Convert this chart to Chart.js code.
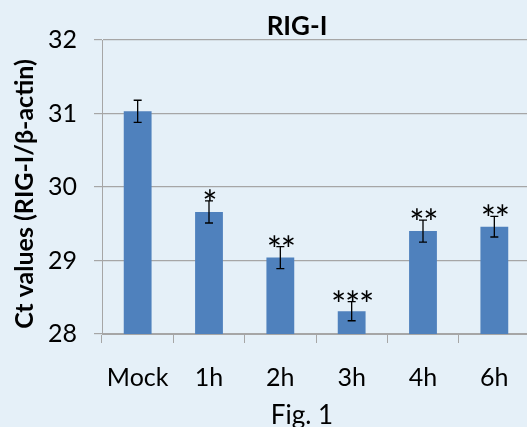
<!DOCTYPE html>
<html>
<head>
<meta charset="utf-8">
<script src="https://cdn.jsdelivr.net/npm/chart.js@4"></script>
<style>
  html, body { margin: 0; padding: 0; overflow: hidden; background: #e5f0f8; }
  #wrap { width: 531px; height: 427px; }
</style>
</head>
<body>
<div id="wrap"><canvas id="rigChart" width="531" height="427"></canvas></div>
<script>
// values
const categories = ["Mock", "1h", "2h", "3h", "4h", "6h"];
const ctValues = [31.03, 29.66, 29.04, 28.31, 29.40, 29.46];
const errValues = [0.15, 0.15, 0.15, 0.13, 0.15, 0.14];
const stars = ["", "*", "**", "***", "**", "**"];
const yTicks = [28, 29, 30, 31, 32];

const FONT = "Lato, 'Open Sans', sans-serif";
const gridColor = "#a6a6a6";

// error bars, asterisks and the free-standing texts
const extrasPlugin = {
    id: "extras",
    afterDatasetsDraw(chart) {
        const ctx = chart.ctx;
        const y = chart.scales.y;
        const meta = chart.getDatasetMeta(0);

        ctx.save();
        ctx.strokeStyle = "#000";
        ctx.fillStyle = "#000";
        ctx.lineWidth = 1.3;
        ctx.font = "36px " + FONT;
        ctx.textAlign = "center";
        ctx.textBaseline = "alphabetic";
        const m = ctx.measureText("*");
        const starMid = (m.actualBoundingBoxAscent - m.actualBoundingBoxDescent) / 2;

        meta.data.forEach((bar, i) => {
            const top = y.getPixelForValue(ctValues[i] + errValues[i]);
            const bot = y.getPixelForValue(ctValues[i] - errValues[i]);
            ctx.beginPath();
            ctx.moveTo(bar.x, top);
            ctx.lineTo(bar.x, bot);
            ctx.moveTo(bar.x - 4, top);
            ctx.lineTo(bar.x + 4, top);
            ctx.moveTo(bar.x - 4, bot);
            ctx.lineTo(bar.x + 4, bot);
            ctx.stroke();

            // asterisks, 14px apart, centred over the bar
            const n = stars[i].length;
            for (let k = 0; k < n; k++) {
                const sx = bar.x + 1 + (k - (n - 1) / 2) * 14;
                ctx.fillText("*", sx, top - 6 + starMid);
            }
        });

        ctx.textAlign = "center";
        ctx.textBaseline = "alphabetic";
        ctx.font = "bold 26px " + FONT;
        ctx.fillText("RIG-I", 297, 35);

        ctx.font = "26px " + FONT;
        ctx.fillText("Fig. 1", 302, 424);

        ctx.translate(33, 194);
        ctx.rotate(-Math.PI / 2);
        ctx.font = "bold 25px " + FONT;
        ctx.fillText("Ct values (RIG-I/\u03b2-actin)", 0, 0);
        ctx.restore();
    }
};

const ctx = document.getElementById("rigChart").getContext("2d");

new Chart(ctx, {
    type: "bar",
    data: {
        labels: categories,
        datasets: [{
            data: ctValues,
            backgroundColor: "#4f81bd",
            borderWidth: 0,
            categoryPercentage: 1,
            barPercentage: 0.39
        }]
    },
    options: {
        responsive: false,
        animation: false,
        devicePixelRatio: 1,
        layout: { padding: { top: 40, right: 1, left: 0, bottom: 0 } },
        plugins: {
            legend: { display: false },
            tooltip: { enabled: false }
        },
        scales: {
            x: {
                offset: true,
                grid: {
                    display: true,
                    offset: true,
                    drawOnChartArea: false,
                    drawTicks: true,
                    tickLength: 9,
                    color: gridColor
                },
                border: { display: true, color: gridColor },
                ticks: {
                    color: "#000",
                    padding: 20,
                    font: { family: FONT, size: 25 }
                },
                afterFit: s => { s.height = 93; }
            },
            y: {
                min: 28,
                max: 32,
                afterBuildTicks: s => { s.ticks = yTicks.map(v => ({ value: v })); },
                grid: {
                    color: gridColor,
                    tickLength: 8,
                    lineWidth: 1.2
                },
                border: { display: true, color: gridColor },
                ticks: {
                    color: "#000",
                    padding: 17,
                    font: { family: FONT, size: 25 }
                },
                afterFit: s => { s.width = 102; }
            }
        }
    },
    plugins: [extrasPlugin]
});
</script>
</body>
</html>
